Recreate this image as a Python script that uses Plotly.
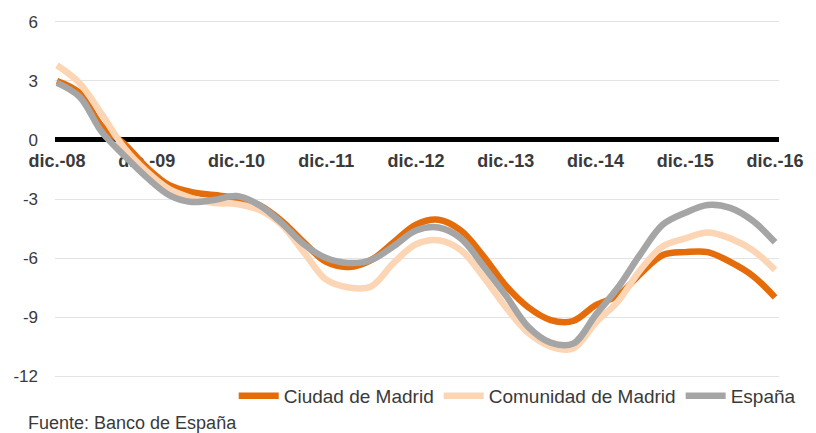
import plotly.graph_objects as go

# quarterly points, from dic.-08 (t=0) to dic.-16 (t=8)
t = [i * 0.25 for i in range(33)]
tick_vals = list(range(9))
tick_text = ["dic.-08", "dic.-09", "dic.-10", "dic.-11", "dic.-12",
             "dic.-13", "dic.-14", "dic.-15", "dic.-16"]
y_vals = [-12, -9, -6, -3, 0, 3, 6]
y_text = ["-12", "-9", "-6", "-3", "0", "3", "6"]

ciudad = [3.0, 2.4, 0.7, -0.2, -1.4, -2.3, -2.65, -2.8, -2.95, -3.3,
          -4.1, -5.2, -6.2, -6.45, -6.1, -5.2, -4.3, -4.05, -4.6, -5.9,
          -7.4, -8.5, -9.15, -9.2, -8.4, -7.9, -6.8, -5.85, -5.7, -5.7,
          -6.2, -6.9, -8.0]
comunidad = [3.8, 2.9, 1.3, -0.4, -1.6, -2.5, -2.95, -3.2, -3.25, -3.55,
             -4.3, -5.7, -7.1, -7.5, -7.45, -6.25, -5.3, -5.1, -5.6, -6.95,
             -8.5, -9.8, -10.5, -10.6, -9.3, -8.2, -6.6, -5.4, -5.0, -4.7,
             -5.0, -5.6, -6.6]
espana = [2.9, 2.2, 0.4, -0.8, -1.9, -2.8, -3.15, -3.05, -2.85, -3.3,
          -4.2, -5.3, -6.0, -6.25, -6.1, -5.4, -4.6, -4.45, -5.0, -6.4,
          -7.9, -9.5, -10.3, -10.35, -8.9, -7.5, -5.8, -4.3, -3.7, -3.3,
          -3.45, -4.1, -5.2]

series = [("Ciudad de Madrid", ciudad, "#E46C0A"),
          ("Comunidad de Madrid", comunidad, "#FCD5B5"),
          ("España", espana, "#A5A5A5")]

FONT = "Liberation Sans, Arial, sans-serif"
TXT = "#3a3a3a"
Y_LO, Y_HI = -12.3, 6.3

fig = go.Figure()
for name, vals, color in series:
    fig.add_trace(go.Scatter(x=t, y=vals, mode="lines", name=name,
                             line=dict(color=color, width=6.5, shape="spline", smoothing=1.0)))

fig.update_layout(
    width=816, height=433,
    margin=dict(l=55, r=29, t=16, b=51),
    plot_bgcolor="white", paper_bgcolor="white",
    font=dict(family=FONT, size=17, color=TXT),
    showlegend=True,
    legend=dict(orientation="h", x=1.03, xanchor="right", y=-0.038, yanchor="middle",
                font=dict(size=19, color=TXT), itemwidth=40, tracegroupgap=0,
                bgcolor="rgba(0,0,0,0)"),
    xaxis=dict(range=[-0.022, 8.044], tickvals=tick_vals, ticktext=tick_text,
               showgrid=False, zeroline=False, showline=False,
               anchor="free", position=-Y_LO / (Y_HI - Y_LO), ticks="", ticklabelstandoff=8,
               tickfont=dict(family=FONT, size=18, color=TXT, weight="bold"),
               layer="below traces"),
    yaxis=dict(range=[Y_LO, Y_HI], tickvals=y_vals, ticktext=y_text,
               showgrid=True, gridcolor="#e3e3e3", gridwidth=1,
               zeroline=True, zerolinecolor="black", zerolinewidth=5,
               showline=False, ticks="", ticklabelstandoff=16,
               tickfont=dict(family=FONT, size=17, color=TXT)),
    annotations=[dict(text="Fuente: Banco de España", xref="paper", yref="paper",
                      x=-0.04, y=-0.112, xanchor="left", yanchor="middle", showarrow=False,
                      font=dict(family=FONT, size=18, color=TXT))],
)

# drop the default 8px page margin so the figure fills the window exactly
fig.write_html("out.html", config={"displayModeBar": False},
               post_script="document.body.style.margin='0';")
